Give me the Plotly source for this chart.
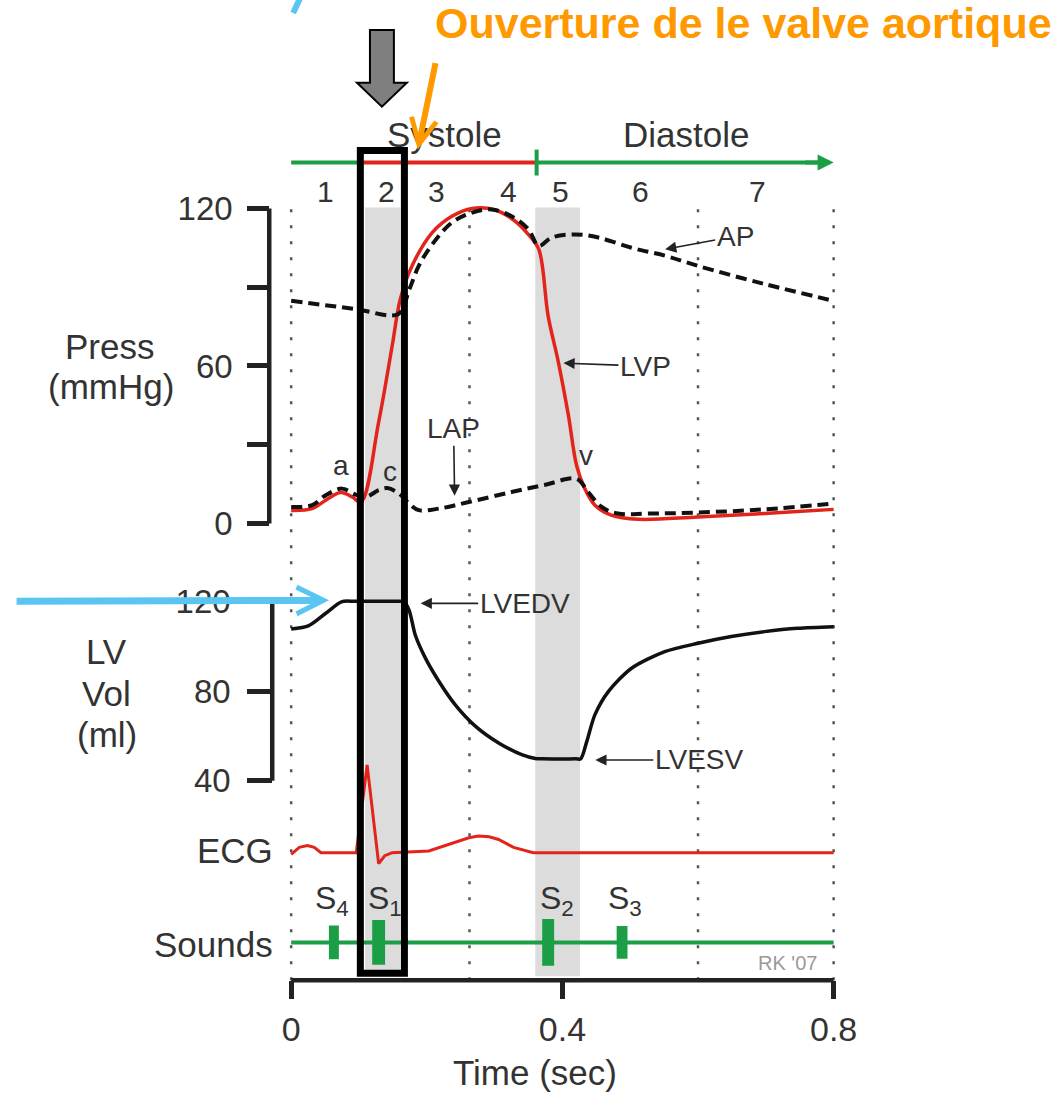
import plotly.graph_objects as go

W, H = 1058, 1095

# ---------------- data ----------------
time_lvp = [0.000, 0.031, 0.051, 0.073, 0.090, 0.103, 0.129, 0.149, 0.161, 0.178, 0.208,
            0.237, 0.267, 0.301, 0.330, 0.350, 0.365, 0.379, 0.394, 0.409, 0.421, 0.433,
            0.448, 0.472, 0.512, 0.600, 0.698, 0.800]
lvp = [5.0, 5.7, 8.9, 11.8, 10.1, 8.2, 38.6, 67.7, 85.5, 98.0, 110.8,
       117.0, 120.0, 119.4, 115.2, 110.0, 104.6, 79.0, 61.5, 41.0, 22.0, 13.3,
       7.0, 3.2, 1.6, 2.5, 3.8, 5.4]

time_ap = [0.000, 0.095, 0.158, 0.174, 0.188, 0.208, 0.237, 0.267, 0.296, 0.325, 0.350,
           0.365, 0.384, 0.419, 0.453, 0.502, 0.551, 0.600, 0.698, 0.800]
ap = [84.8, 81.7, 79.8, 89.0, 98.0, 106.3, 114.6, 118.4, 119.6, 117.0, 112.0,
      105.7, 108.9, 110.1, 108.9, 105.0, 102.0, 98.1, 91.2, 84.8]

time_lap = [0.000, 0.031, 0.051, 0.075, 0.095, 0.110, 0.129, 0.142, 0.159, 0.174, 0.188,
            0.218, 0.262, 0.325, 0.375, 0.421, 0.438, 0.458, 0.482, 0.526, 0.600, 0.698, 0.800]
lap = [6.3, 7.0, 10.8, 13.3, 11.0, 10.1, 12.7, 13.5, 11.4, 7.6, 5.1,
       5.7, 8.2, 12.0, 14.8, 17.0, 12.0, 6.3, 3.8, 3.8, 4.2, 5.4, 7.6]

time_vol = [0.000, 0.026, 0.051, 0.075, 0.095, 0.160, 0.166, 0.174, 0.183, 0.198, 0.218, 0.242,
            0.272, 0.306, 0.340, 0.360, 0.370, 0.420, 0.427, 0.436, 0.448, 0.468, 0.502, 0.551,
            0.600, 0.649, 0.698, 0.747, 0.800]
lv_vol = [107.7, 109.2, 114.7, 119.9, 120.0, 120.0, 120.0, 116.0, 105.0, 94.7, 84.3, 73.9,
          64.3, 56.9, 51.7, 50.0, 49.8, 49.8, 49.8, 57.6, 69.5, 79.9, 90.2, 97.6,
          101.3, 104.3, 106.5, 108.0, 108.7]

time_ecg = [0.000, 0.012, 0.024, 0.034, 0.044, 0.096, 0.112, 0.129, 0.138, 0.149, 0.203,
            0.240, 0.262, 0.276, 0.292, 0.306, 0.328, 0.357, 0.800]
ecg = [-0.02, 0.06, 0.08, 0.06, 0.0, 0.0, 1.0, -0.125, -0.035, 0.0, 0.02,
       0.11, 0.17, 0.19, 0.18, 0.15, 0.06, 0.0, 0.0]

sound_names = ["S<sub>4</sub>", "S<sub>1</sub>", "S<sub>2</sub>", "S<sub>3</sub>"]
sound_times = [0.063, 0.129, 0.379, 0.488]
sound_amps = [0.68, 0.90, 0.94, 0.66]
sound_widths = [0.0147, 0.019, 0.0176, 0.016]
sound_label_times = [0.060, 0.138, 0.392, 0.493]

phase_numbers = ["1", "2", "3", "4", "5", "6", "7"]
phase_label_times = [0.051, 0.140, 0.215, 0.320, 0.397, 0.515, 0.687]
isovolumic_bands = [(0.109, 0.161), (0.360, 0.426)]
grid_times = [0.0, 0.263, 0.6, 0.8]
systole_span = (0.107, 0.362)
highlight_span = (0.102, 0.167)

press_ticks = [0, 30, 60, 90, 120]
press_ticktext = ["0", "", "60", "", "120"]
vol_ticks = [40, 80, 120]
time_ticks = [0, 0.4, 0.8]
time_ticktext = ["0", "0.4", "0.8"]

# ---------------- styling helpers ----------------
FONT = "Liberation Sans, Arial, Helvetica, sans-serif"
TXT = "#333333"
RED = "#E3241B"
GREEN = "#1B9E45"
ORANGE = "#FF9900"
BLUE = "#5BC5F2"
AXC = "#222222"


def X(p):
    return p / W


def Y(p):
    return 1 - p / H


fig = go.Figure()

SM = 1.0
# pressure traces
fig.add_trace(go.Scatter(x=time_lvp, y=lvp, mode="lines", xaxis="x", yaxis="y",
                         line=dict(color=RED, width=3.5, shape="spline", smoothing=SM)))
fig.add_trace(go.Scatter(x=time_ap, y=ap, mode="lines", xaxis="x", yaxis="y",
                         line=dict(color="#111111", width=4, dash="11px,6px", shape="spline", smoothing=SM)))
fig.add_trace(go.Scatter(x=time_lap, y=lap, mode="lines", xaxis="x", yaxis="y",
                         line=dict(color="#111111", width=4, dash="11px,6px", shape="spline", smoothing=SM)))
# volume
fig.add_trace(go.Scatter(x=time_vol, y=lv_vol, mode="lines", xaxis="x", yaxis="y2",
                         line=dict(color="#111111", width=3.5, shape="spline", smoothing=0.8)))
# ECG
fig.add_trace(go.Scatter(x=time_ecg, y=ecg, mode="lines", xaxis="x", yaxis="y3",
                         line=dict(color=RED, width=3)))
# sounds
fig.add_trace(go.Scatter(x=[grid_times[0], grid_times[-1]], y=[0, 0], mode="lines", xaxis="x", yaxis="y4",
                         line=dict(color=GREEN, width=4)))
fig.add_trace(go.Bar(x=sound_times, y=[2 * a for a in sound_amps], base=[-a for a in sound_amps],
                     width=sound_widths, xaxis="x", yaxis="y4", marker=dict(color=GREEN, line=dict(width=0))))

shapes = []
for t0, t1 in isovolumic_bands:
    shapes.append(dict(type="rect", xref="x", yref="paper", x0=t0, x1=t1, y0=Y(979), y1=Y(208),
                       fillcolor="#DCDCDC", line=dict(width=0), layer="below"))
for t in grid_times:
    shapes.append(dict(type="line", xref="x", yref="paper", x0=t, x1=t, y0=Y(983), y1=Y(208),
                       line=dict(color="#555555", width=2.5, dash="3px,13px"), layer="below"))
# axis spines
shapes.append(dict(type="line", xref="paper", yref="y", x0=X(270), x1=X(270),
                   y0=press_ticks[0], y1=press_ticks[-1], line=dict(color=AXC, width=4.5)))
shapes.append(dict(type="line", xref="paper", yref="y2", x0=X(273), x1=X(273),
                   y0=vol_ticks[0], y1=vol_ticks[-1], line=dict(color=AXC, width=4.5)))
shapes.append(dict(type="line", xref="x", yref="paper", x0=time_ticks[0], x1=time_ticks[-1],
                   y0=Y(983), y1=Y(983), line=dict(color=AXC, width=4.5)))
# systole / diastole bar
shapes.append(dict(type="line", xref="x", yref="paper", x0=0, x1=systole_span[0], y0=Y(163), y1=Y(163),
                   line=dict(color=GREEN, width=4)))
shapes.append(dict(type="line", xref="x", yref="paper", x0=systole_span[0], x1=systole_span[1],
                   y0=Y(163), y1=Y(163), line=dict(color=RED, width=4)))
shapes.append(dict(type="line", xref="x", yref="paper", x0=systole_span[1], x1=0.785,
                   y0=Y(163), y1=Y(163), line=dict(color=GREEN, width=4)))
shapes.append(dict(type="line", xref="x", yref="paper", x0=systole_span[1], x1=systole_span[1],
                   y0=Y(150), y1=Y(176), line=dict(color=GREEN, width=4)))
# highlight box
shapes.append(dict(type="rect", xref="x", yref="paper", x0=highlight_span[0], x1=highlight_span[1],
                   y0=Y(976), y1=Y(151), line=dict(color="black", width=7), fillcolor="rgba(0,0,0,0)"))
# gray block arrow
pts = [(371, 30), (395, 30), (395, 83), (408, 83), (383, 107), (358, 83), (371, 83)]
path = "M " + " L ".join(f"{X(a):.5f},{Y(b):.5f}" for a, b in pts) + " Z"
shapes.append(dict(type="path", xref="paper", yref="paper", path=path,
                   fillcolor="#7F7F7F", line=dict(color="black", width=2)))
# small blue mark at top
shapes.append(dict(type="line", xref="paper", yref="paper", x0=X(301), x1=X(294), y0=Y(-2), y1=Y(13),
                   line=dict(color=BLUE, width=6)))

ann = []


def label(text, x, y, size, color=TXT, xanchor="center"):
    ann.append(dict(text=text, x=X(x), y=Y(y), xref="paper", yref="paper", showarrow=False,
                    font=dict(size=size, color=color, family=FONT), xanchor=xanchor, yanchor="middle"))


for s, t in zip(phase_numbers, phase_label_times):
    ann.append(dict(text=s, x=t, y=Y(192), xref="x", yref="paper", showarrow=False,
                    font=dict(size=30, color=TXT, family=FONT), xanchor="center", yanchor="middle"))
label("Systole", 446, 135, 35)
label("Diastole", 688, 135, 35)
label("Press", 110, 347, 35)
label("(mmHg)", 111, 388, 35)
label("LV", 107, 653, 35)
label("Vol", 107, 695, 35)
label("(ml)", 107, 737, 35)
label("ECG", 276, 853, 35, xanchor="right")
label("Sounds", 276, 947, 35, xanchor="right")
label("Time (sec)", 537, 1075, 35)
label("<b>Ouverture de le valve aortique</b>", 746, 23, 43, color=ORANGE)
label("RK '07", 790, 966, 20, color="#9A9A9A")
label("a", 342, 467, 28)
label("c", 391, 473, 28)
label("v", 588, 457, 28)
for s, t in zip(sound_names, sound_label_times):
    ann.append(dict(text=s, x=t, y=Y(903), xref="x", yref="paper", showarrow=False,
                    font=dict(size=32, color=TXT, family=FONT), xanchor="center", yanchor="middle"))


def pointer(text, x, y, yref, ax, ay):
    ann.append(dict(text=text, x=x, y=y, xref="x", yref=yref, ax=ax, ay=ay, axref="pixel", ayref="pixel",
                    showarrow=True, arrowhead=2, arrowsize=1.4, arrowwidth=1.6, arrowcolor=AXC,
                    font=dict(size=28, color=TXT, family=FONT)))


pointer("AP", 0.5515, 104.4, "y", 70, -13)
pointer("LVP", 0.4015, 61.1, "y", 82, 3)
pointer("LAP", 0.241, 10.6, "y", -1, -67)
pointer("LVEDV", 0.191, 119.1, "y2", 104, 0)
pointer("LVESV", 0.4485, 49.3, "y2", 104, 0)

# green diastole arrowhead
ann.append(dict(text="", x=0.8, y=Y(163), xref="x", yref="paper", ax=-30, ay=0, showarrow=True,
                arrowhead=2, arrowsize=0.8, arrowwidth=4, arrowcolor=GREEN))
# orange arrow
ann.append(dict(text="", x=X(419), y=Y(150), xref="paper", yref="paper", ax=18, ay=-88, showarrow=True,
                arrowhead=5, arrowsize=0.83, arrowwidth=6, arrowcolor=ORANGE))
# blue arrow
ann.append(dict(text="", x=X(330), y=Y(602), xref="paper", yref="paper", ax=-314, ay=1, showarrow=True,
                arrowhead=5, arrowsize=0.75, arrowwidth=7, arrowcolor=BLUE))

tickfont = dict(size=33, color=TXT, family=FONT)
fig.update_layout(
    width=W, height=H, margin=dict(l=0, r=0, t=0, b=0),
    paper_bgcolor="white", plot_bgcolor="rgba(0,0,0,0)", showlegend=False,
    font=dict(family=FONT, color=TXT),
    xaxis=dict(domain=[X(292 - 0.03 * 680), X(292 + 0.83 * 680)], range=[-0.03, 0.83],
               anchor="free", position=Y(983), showline=False, showgrid=False, zeroline=False,
               ticks="outside", ticklen=18, tickwidth=4.5, tickcolor=AXC,
               tickvals=time_ticks, ticktext=time_ticktext, tickfont=dict(size=34, color=TXT, family=FONT),
               ticklabelstandoff=1),
    yaxis=dict(domain=[Y(540.8), Y(187.9)], range=[-6, 128], anchor="free", position=X(270),
               showline=False, showgrid=False, zeroline=False, ticks="outside", ticklen=22,
               tickwidth=4.5, tickcolor=AXC, tickvals=press_ticks, ticktext=press_ticktext,
               tickfont=tickfont, ticklabelstandoff=8),
    yaxis2=dict(domain=[Y(805.5), Y(585)], range=[30, 128], anchor="free", position=X(273),
                showline=False, showgrid=False, zeroline=False, ticks="outside", ticklen=25,
                tickwidth=4.5, tickcolor=AXC, tickvals=vol_ticks, tickfont=tickfont, ticklabelstandoff=10),
    yaxis3=dict(domain=[Y(881.4), Y(749.4)], range=[-0.3, 1.2], anchor="x", visible=False),
    yaxis4=dict(domain=[Y(982.5), Y(907.5)], range=[-1.5, 1.5], anchor="x", visible=False),
    shapes=shapes, annotations=ann,
)

fig.write_html("out.html", config={"displayModeBar": False},
               post_script="document.body.style.margin='0';document.body.style.overflow='hidden';")
